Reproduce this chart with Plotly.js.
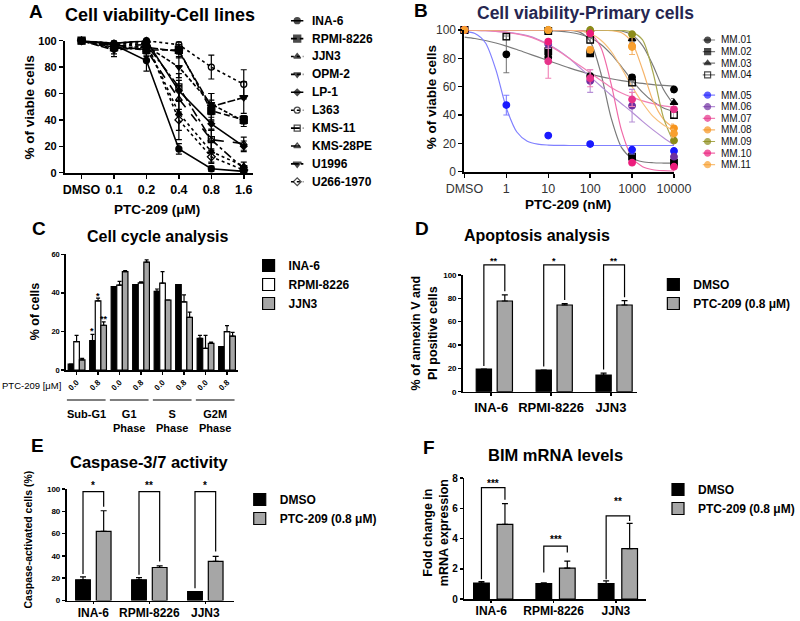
<!DOCTYPE html>
<html><head><meta charset="utf-8">
<script src="https://cdn.plot.ly/plotly-3.0.1.min.js"></script>
<style>html,body{margin:0;padding:0;background:#fff}#chart{width:800px;height:621px}</style>
</head><body><div id="chart"></div>
<script>
const W = 800, H = 621;
const FONT = 'Liberation Sans, Arial, Helvetica, sans-serif';

// ---------------- Panel A data ----------------
const doseLabelsA = ['DMSO', '0.1', '0.2', '0.4', '0.8', '1.6'];
const doseIdxA = [0, 1, 2, 3, 4, 5];
const seriesNamesA = ['INA-6', 'RPMI-8226', 'JJN3', 'OPM-2', 'LP-1', 'L363', 'KMS-11', 'KMS-28PE', 'U1996', 'U266-1970'];
const ina6A = [100, 97, 85, 18, 3, 1];
const ina6ErrA = [0, 3, 8, 4, 2, 1];
const rpmiA = [100, 95, 93, 93, 47, 40];
const rpmiErrA = [0, 3, 4, 3, 8, 3];
const jjn3A = [100, 96, 98, 45, 16, 5];
const jjn3ErrA = [0, 3, 3, 20, 8, 3];
const opm2A = [100, 94, 96, 80, 52, 39];
const opm2ErrA = [0, 4, 3, 8, 8, 4];
const lp1A = [100, 98, 100, 62, 37, 20];
const lp1ErrA = [0, 2, 1, 8, 5, 4];
const l363A = [100, 98, 100, 97, 80, 67];
const l363ErrA = [0, 2, 1, 2, 9, 11];
const kms11A = [100, 96, 97, 65, 25, 3];
const kms11ErrA = [0, 3, 3, 10, 8, 2];
const kms28A = [100, 97, 93, 56, 25, 22];
const kms28ErrA = [0, 2, 5, 10, 7, 5];
const u1996A = [100, 93, 95, 92, 50, 57];
const u1996ErrA = [0, 5, 4, 5, 10, 12];
const u266A = [100, 97, 99, 40, 12, 2];
const u266ErrA = [0, 2, 2, 8, 5, 2];

// ---------------- Panel B data ----------------
const patientsB = ['MM.01', 'MM.02', 'MM.03', 'MM.04', 'MM.05', 'MM.06', 'MM.07', 'MM.08', 'MM.09', 'MM.10', 'MM.11'];
const concB = [0.1, 1, 10, 100, 1000, 10000];
const concLabelsB = ['DMSO', '1', '10', '100', '1000', '10000'];
const ptMM01 = [100, 82.8, 80.7, 67.5, 66.6, 58];
const errMM01 = [0, 13, 0, 2, 2, 2];
const ptMM02 = [100, null, 85, 83.5, 10.6, 6.4];
const errMM02 = [0, 0, 0, 0, 0, 0];
const ptMM03 = [100, null, 100, 100, 93.6, 48.7];
const errMM03 = [0, 0, 0, 0, 2, 3];
const ptMM04 = [100, 95.3, 99.3, 93, 62.8, 40];
const errMM04 = [0, 2, 1, 2, 2, 2];
const ptMM05 = [100, 47, 25.5, 19.5, 15.5, 14.6];
const errMM05 = [0, 7, 0, 0, 3, 0];
const ptMM06 = [100, null, 90, 64, 46.6, 10.6];
const errMM06 = [0, 0, 3, 8, 11.5, 0];
const ptMM07 = [100, null, 78, 66, 51, 44];
const errMM07 = [0, 0, 12, 6, 5, 2];
const ptMM08 = [100, null, 100, 98, 88.7, 30.6];
const errMM08 = [0, 0, 0, 2, 6, 3];
const ptMM09 = [100, null, 100, 100, 97, 22];
const errMM09 = [0, 0, 0, 0, 0, 0];
const ptMM10 = [100, null, 91.8, 97.6, 6.4, 3.5];
const errMM10 = [0, 0, 0, 0, 0, 0];
const ptMM11 = [100, null, 100, 86, 88, 27];
const errMM11 = [0, 0, 0, 2, 0, 3];
// fitted curves at quarter-decade steps
const fitConcB = [0.1, 0.178, 0.316, 0.562, 1, 1.78, 3.16, 5.62, 10, 17.8, 31.6, 56.2, 100, 178, 316, 562, 1000, 1780, 3160, 5620, 10000];
const fitMM01 = [95, 94, 92.6, 90.8, 88.6, 86.2, 83.6, 81, 78.4, 75.8, 73.3, 71, 68.9, 67.1, 65.6, 64.3, 63.2, 62.3, 61.5, 60.9, 60.4];
const fitMM02 = [100, 100, 100, 100, 100, 100, 100, 100, 100, 99.9, 99.8, 98.5, 92, 70, 38, 17, 9.5, 7, 6.3, 6.1, 6];
const fitMM03 = [100, 100, 100, 100, 100, 100, 100, 100, 100, 100, 100, 100, 100, 99.9, 99.8, 99.3, 96.5, 89, 75, 58, 47];
const fitMM04 = [100, 100, 100, 100, 100, 100, 99.9, 99.8, 99.6, 99.2, 98.4, 97, 94.5, 90, 83, 74, 64.5, 56, 49.5, 45, 42.5];
const fitMM05 = [99, 97.5, 91, 72, 45, 28, 21.5, 19.4, 18.8, 18.6, 18.5, 18.5, 18.5, 18.5, 18.5, 18.5, 18.5, 18.5, 18.5, 18.5, 18.5];
const fitMM06 = [99.8, 99.7, 99.5, 99.1, 98.5, 97.5, 96, 93.5, 90, 85.5, 80, 73.5, 67, 60.5, 54, 48, 42, 35.5, 29.5, 24, 19];
const fitMM07 = [99.8, 99.7, 99.5, 99, 98.3, 97.3, 95.7, 93, 89.5, 85, 80, 75, 70, 64.5, 59.5, 55.5, 52.5, 50, 48, 46.5, 45.5];
const fitMM08 = [100, 100, 100, 100, 100, 100, 100, 100, 100, 100, 100, 100, 100, 99.9, 99.6, 98, 91, 72, 50, 37, 31];
const fitMM09 = [100, 100, 100, 100, 100, 100, 100, 100, 100, 100, 100, 100, 100, 100, 100, 99.8, 98.5, 93, 70, 38, 20];
const fitMM10 = [100, 100, 100, 100, 100, 100, 100, 100, 100, 100, 100, 99.6, 97.5, 88, 62, 29, 10, 3.5, 1.4, 0.7, 0.4];
const fitMM11 = [100, 100, 100, 100, 100, 100, 100, 100, 100, 100, 100, 99.3, 97.5, 93, 85, 73, 60, 48.5, 39, 33, 29];

// ---------------- Panel C data ----------------
const doseLabelsC = ['0.0', '0.8', '0.0', '0.8', '0.0', '0.8', '0.0', '0.8'];
const phaseLabelsC = ['Sub-G1', 'G1<br>Phase', 'S<br>Phase', 'G2M<br>Phase'];
const cellLinesC = ['INA-6', 'RPMI-8226', 'JJN3'];
const ina6C = [3.1, 15.2, 43.3, 44.3, 40.8, 44.3, 16.4, 12.1];
const ina6ErrC = [0, 3.3, 0, 0, 1.2, 0, 1.6, 0];
const rpmiC = [14.7, 35.8, 44, 45.2, 45, 35.3, 11.2, 19.9];
const rpmiErrC = [3.3, 1.5, 2, 0.5, 6, 3.7, 6.8, 3.1];
const jjn3C = [5.2, 23.2, 51, 55.9, 36.3, 27.3, 13.8, 17.6];
const jjn3ErrC = [0.8, 1.8, 0.5, 1.2, 0, 2.7, 0.7, 1.9];
const starCatC = [1, 1, 1];
const starSeriesC = [0, 1, 2];
const starValC = [21.2, 39.4, 27.6];
const starTextC = ['*', '*', '**'];

// ---------------- Panels D, E, F data ----------------
const cellLines = ['INA-6', 'RPMI-8226', 'JJN3'];
const groupNames = ['DMSO', 'PTC-209 (0.8 \u03bcM)'];
const dmsoD = [19.4, 18.6, 14.3];
const dmsoErrD = [0, 0, 1.7];
const ptcD = [77.7, 74.3, 74.3];
const ptcErrD = [5.3, 1.2, 3.7];
const brTopD = [108.6, 108.6, 108.6];
const brLeftD = [22, 21.5, 19];
const brRightD = [86, 78.5, 81];
const brStarD = [114, 114, 114];
const brTextD = ['**', '*', '**'];

const dmsoE = [18.6, 18.6, 8];
const dmsoErrE = [2.5, 2, 0];
const ptcE = [62, 29.6, 35];
const ptcErrE = [18.5, 1.5, 4.6];
const brTopE = [97.6, 97.6, 97.6];
const brLeftE = [23.7, 23, 11];
const brRightE = [84, 35, 44];
const brStarE = [105, 105, 105];
const brTextE = ['*', '**', '*'];

const dmsoF = [1.05, 1.02, 1.02];
const dmsoErrF = [0.1, 0.05, 0.18];
const ptcF = [4.93, 2.04, 3.33];
const ptcErrF = [1.37, 0.46, 1.67];
const brTopF = [7.36, 3.5, 5.5];
const brLeftF = [1.31, 1.75, 1.3];
const brRightF = [6.56, 3.07, 5.15];
const brStarF = [7.8, 4.05, 6.6];
const brTextF = ['***', '***', '**'];

// ---------------- geometry (px) ----------------
const G = {
  A: {x0: 66, x1: 258, y0: 172.7, y1: 40.7, xr: [-0.515, 5.3], yr: [0, 100]},
  B: {x0: 472.7, x1: 686, y0: 171.7, y1: 30, xr: [-1, 4], yr: [0, 100]},
  C: {x0: 67, x1: 242, y0: 370, y1: 254.3, xr: [-0.5, 7.5], yr: [0, 60]},
  D: {x0: 471, x1: 648, y0: 391.7, y1: 275, xr: [-0.475, 2.43], yr: [0, 100]},
  E: {x0: 67.7, x1: 238, y0: 600.5, y1: 489, xr: [-0.479, 2.509], yr: [0, 100]},
  F: {x0: 472.7, x1: 658, y0: 599, y1: 478, xr: [-0.43, 2.49], yr: [0, 8]}
};
const PX = p => p / W;
const PY = p => 1 - p / H;
const dataX = (g, v) => (g.x0 + (v - g.xr[0]) / (g.xr[1] - g.xr[0]) * (g.x1 - g.x0)) / W;
const dataY = (g, v) => 1 - (g.y0 + (v - g.yr[0]) / (g.yr[1] - g.yr[0]) * (g.y1 - g.y0)) / H;

function axis(g, isX, anchor, extra) {
  const o = {
    domain: isX ? [g.x0 / W, g.x1 / W] : [1 - g.y0 / H, 1 - g.y1 / H],
    range: isX ? g.xr : g.yr,
    anchor: anchor, showgrid: false, zeroline: false, showline: true,
    linecolor: '#000', linewidth: 2, ticks: 'outside', ticklen: 4, tickwidth: 1.5,
    tickcolor: '#000', fixedrange: true, automargin: false
  };
  return Object.assign(o, extra || {});
}

const traces = [];
const annotations = [];
const shapes = [];
function ann(text, x, y, size, o) {
  annotations.push(Object.assign({text: text, x: x, y: y, xref: 'paper', yref: 'paper', showarrow: false,
    xanchor: 'center', yanchor: 'middle', borderpad: 0,
    font: {family: FONT, size: size, color: '#000', weight: 'bold'}}, o || {}));
}

// ---------------- Panel A traces ----------------
const valuesA = [ina6A, rpmiA, jjn3A, opm2A, lp1A, l363A, kms11A, kms28A, u1996A, u266A];
const errsA = [ina6ErrA, rpmiErrA, jjn3ErrA, opm2ErrA, lp1ErrA, l363ErrA, kms11ErrA, kms28ErrA, u1996ErrA, u266ErrA];
const dashA = ['solid', '6px,3px', 'dot', '4px,2px', 'solid', 'dot', 'dashdot', 'dash', '8px,2px', 'dot'];
const symA = ['circle', 'square', 'triangle-up', 'triangle-down', 'diamond', 'circle-open', 'square-open', 'triangle-up-open', 'triangle-down', 'diamond-open'];
const sizeA = [6, 7, 6, 6, 5, 6, 6, 6, 7, 6];
seriesNamesA.forEach((nm, i) => {
  traces.push({type: 'scatter', mode: 'lines+markers', name: nm, x: doseIdxA, y: valuesA[i], xaxis: 'x', yaxis: 'y',
    line: {color: '#000', width: 1.6, dash: dashA[i]}, marker: {symbol: symA[i], size: sizeA[i], color: '#000', line: {color: '#000', width: 1.3}},
    error_y: {type: 'data', array: errsA[i], visible: true, color: '#000', thickness: 1.2, width: 3},
    cliponaxis: false, showlegend: false});
  traces.push({type: 'scatter', mode: 'lines+markers', x: [0, 0.5, 1], y: [i, i, i], xaxis: 'x7', yaxis: 'y7',
    line: {color: '#000', width: 1.6, dash: dashA[i]}, marker: {symbol: symA[i], size: [0, sizeA[i], 0], color: '#000', line: {color: '#000', width: 1.3}},
    cliponaxis: false, showlegend: false, hoverinfo: 'skip'});
  ann(nm, PX(317), 1 - (20.7 + 17.9 * i) / H, 12, {xanchor: 'left'});
});

// ---------------- Panel B traces ----------------
const ptsB = [ptMM01, ptMM02, ptMM03, ptMM04, ptMM05, ptMM06, ptMM07, ptMM08, ptMM09, ptMM10, ptMM11];
const errB = [errMM01, errMM02, errMM03, errMM04, errMM05, errMM06, errMM07, errMM08, errMM09, errMM10, errMM11];
const fitsB = [fitMM01, fitMM02, fitMM03, fitMM04, fitMM05, fitMM06, fitMM07, fitMM08, fitMM09, fitMM10, fitMM11];
const markColB = ['#000', '#000', '#000', '#000', '#1a1aff', '#7030a0', '#e6338a', '#f7941d', '#8c8c1a', '#ec1c7c', '#f8a030'];
const lineColB = ['#7a7a7a', '#7a7a7a', '#7a7a7a', '#7a7a7a', '#8080ff', '#b68fd6', '#f07fb5', '#f5b46a', '#a9a951', '#f06aa8', '#f8c07a'];
const symB = ['circle', 'square', 'triangle-up', 'square-open', 'circle', 'circle', 'circle', 'circle', 'circle', 'circle', 'circle'];
const rowStepB = 11.6;
patientsB.forEach((nm, i) => {
  traces.push({type: 'scatter', mode: 'lines', x: fitConcB, y: fitsB[i], xaxis: 'x2', yaxis: 'y2',
    line: {color: lineColB[i], width: 1.2, shape: 'spline', smoothing: 0.8}, showlegend: false, hoverinfo: 'skip'});
});
patientsB.forEach((nm, i) => {
  traces.push({type: 'scatter', mode: 'markers', name: nm, x: concB, y: ptsB[i], xaxis: 'x2', yaxis: 'y2',
    marker: {symbol: symB[i], size: 6.5, color: markColB[i], line: {color: markColB[i], width: 1.3}},
    error_y: {type: 'data', array: errB[i], visible: true, color: lineColB[i], thickness: 1.1, width: 3},
    cliponaxis: false, showlegend: false});
  const row = i + (i >= 4 ? 0.75 : 0);
  traces.push({type: 'scatter', mode: 'lines+markers', x: [0, 0.4, 1], y: [row, row, row], xaxis: 'x8', yaxis: 'y8',
    line: {color: lineColB[i], width: 1.2}, marker: {symbol: symB[i], size: [0, 6, 0], color: markColB[i], line: {color: markColB[i], width: 1.2}},
    cliponaxis: false, showlegend: false, hoverinfo: 'skip'});
  ann(nm, PX(733), 1 - (40 + rowStepB * row) / H, 10, {xanchor: 'left', font: {family: FONT, size: 10, color: '#111', weight: 'normal'}});
});

// ---------------- Panel C traces ----------------
const catIdxC = doseLabelsC.map((d, i) => i);
const valsC = [ina6C, rpmiC, jjn3C];
const errsC = [ina6ErrC, rpmiErrC, jjn3ErrC];
const fillC = ['#000', '#fff', '#a6a6a6'];
const offC = [-0.39, -0.13, 0.13], wC = 0.26;
cellLinesC.forEach((nm, k) => {
  traces.push({type: 'bar', name: nm, x: catIdxC, y: valsC[k], xaxis: 'x3', yaxis: 'y3', width: wC, offset: offC[k],
    marker: {color: fillC[k], line: {color: '#000', width: 1.2}},
    error_y: {type: 'data', symmetric: false, array: errsC[k], arrayminus: errsC[k].map(() => 0), color: '#000', thickness: 1.2, width: 2},
    legend: 'legend', showlegend: true});
});
starCatC.forEach((c, j) => {
  const xv = c + offC[starSeriesC[j]] + wC / 2;
  ann(starTextC[j], dataX(G.C, xv), dataY(G.C, starValC[j]), 9, {yshift: -2});
});
phaseLabelsC.forEach((lbl, k) => {
  const xa = dataX(G.C, 2 * k - 0.45), xb = dataX(G.C, 2 * k + 1.35);
  shapes.push({type: 'line', xref: 'paper', yref: 'paper', x0: xa, x1: xb, y0: PY(400), y1: PY(400), line: {color: '#000', width: 1.2}});
  ann(lbl, dataX(G.C, 2 * k + 0.45), PY(407), 11, {yanchor: 'top'});
});
ann('PTC-209 [\u03bcM]', PX(63), PY(385), 9.5, {xanchor: 'right', font: {family: FONT, size: 9.5, color: '#000', weight: 'normal'}});

// ---------------- Panels D, E, F traces ----------------
const catIdx = cellLines.map((c, i) => i);
function barPanel(g, xa, ya, legendName, dm, dmErr, pt, ptErr, offs, w, br, starSize) {
  const vals = [dm, pt], errs = [dmErr, ptErr], fills = ['#000', '#a6a6a6'];
  groupNames.forEach((nm, k) => {
    traces.push({type: 'bar', name: nm, x: catIdx, y: vals[k], xaxis: xa, yaxis: ya, width: w, offset: offs[k],
      marker: {color: fills[k], line: {color: '#000', width: 1.2}},
      error_y: {type: 'data', symmetric: false, array: errs[k], arrayminus: errs[k].map(() => 0), color: '#000', thickness: 1.2, width: 3},
      legend: legendName, showlegend: true});
  });
  catIdx.forEach(i => {
    const xl = dataX(g, i + offs[0] + w / 2), xr = dataX(g, i + offs[1] + w / 2);
    const yt = dataY(g, br.top[i]);
    shapes.push({type: 'path', xref: 'paper', yref: 'paper',
      path: `M ${xl},${dataY(g, br.left[i])} L ${xl},${yt} L ${xr},${yt} L ${xr},${dataY(g, br.right[i])}`,
      line: {color: '#000', width: 1.2}});
    ann(br.text[i], (xl + xr) / 2, dataY(g, br.star[i]), starSize, {yshift: -2});
  });
}
barPanel(G.D, 'x4', 'y4', 'legend2', dmsoD, dmsoErrD, ptcD, ptcErrD, [-0.25, 0.10], 0.255,
  {top: brTopD, left: brLeftD, right: brRightD, star: brStarD, text: brTextD}, 9);
barPanel(G.E, 'x5', 'y5', 'legend3', dmsoE, dmsoErrE, ptcE, ptcErrE, [-0.316, 0.053], 0.263,
  {top: brTopE, left: brLeftE, right: brRightE, star: brStarE, text: brTextE}, 10);
barPanel(G.F, 'x6', 'y6', 'legend4', dmsoF, dmsoErrF, ptcF, ptcErrF, [-0.283, 0.094], 0.252,
  {top: brTopF, left: brLeftF, right: brRightF, star: brStarF, text: brTextF}, 10);

// ---------------- titles / labels ----------------
[['A', 37, 12], ['B', 428, 11], ['C', 40, 228], ['D', 430, 228], ['E', 38, 445], ['F', 437, 447]].forEach(t => ann(t[0], PX(t[1]), PY(t[2]), 19));
ann('Cell viability-Cell lines', PX(163), PY(15), 18);
ann('Cell viability-Primary cells', PX(596), PY(13), 17.5, {font: {family: FONT, size: 17.5, color: '#262650', weight: 'bold'}});
ann('Cell cycle analysis', PX(161), PY(237), 16);
ann('Apoptosis analysis', PX(547), PY(235), 16);
ann('Caspase-3/7 activity', PX(152), PY(462), 16.5);
ann('BIM mRNA levels', PX(565), PY(455), 16.5);
ann('% of viable cells', PX(31), PY(107), 13.5, {textangle: -90});
ann('PTC-209 (\u03bcM)', PX(160), PY(210), 13.5);
ann('% of viable cells', PX(439), PY(97), 13.5, {textangle: -90});
ann('PTC-209 (nM)', PX(578), PY(204), 13.5);
ann('% of cells', PX(36), PY(311), 12.5, {textangle: -90});
ann('% of annexin V and<br>PI positive cells', PX(432), PY(333), 12.5, {textangle: -90});
ann('Caspase-activated cells (%)', PX(28), PY(540), 10.5, {textangle: -90});
ann('Fold change in<br>mRNA expression', PX(444), PY(533), 12.5, {textangle: -90});

const bold = s => ({family: FONT, size: s, color: '#000', weight: 'bold'});
const layout = {
  width: W, height: H, margin: {l: 0, r: 0, t: 0, b: 0}, paper_bgcolor: '#fff', plot_bgcolor: 'rgba(0,0,0,0)',
  barmode: 'overlay', showlegend: true, font: {family: FONT, color: '#000'},
  xaxis: axis(G.A, true, 'y', {tickvals: doseIdxA, ticktext: doseLabelsA, tickfont: bold(12.5)}),
  yaxis: axis(G.A, false, 'x', {tickvals: [0, 20, 40, 60, 80, 100], tickfont: bold(11)}),
  xaxis2: axis(G.B, true, 'y2', {type: 'log', tickvals: concB, ticktext: concLabelsB, tickfont: {family: FONT, size: 12.5, color: '#333'}}),
  yaxis2: axis(G.B, false, 'x2', {tickvals: [0, 20, 40, 60, 80, 100], tickfont: {family: FONT, size: 12, color: '#333'}}),
  xaxis3: axis(G.C, true, 'y3', {tickvals: catIdxC, ticktext: doseLabelsC, tickangle: -45, tickfont: bold(8), ticklen: 3, linewidth: 1.6}),
  yaxis3: axis(G.C, false, 'x3', {tickvals: [0, 20, 40, 60], tickfont: bold(7.5), ticklen: 3, linewidth: 1.6}),
  xaxis4: axis(G.D, true, 'y4', {tickvals: catIdx, ticktext: cellLines, tickfont: bold(13), ticklen: 3, linewidth: 1.6}),
  yaxis4: axis(G.D, false, 'x4', {tickvals: [0, 20, 40, 60, 80, 100], tickfont: bold(8), ticklen: 3, linewidth: 1.6}),
  xaxis5: axis(G.E, true, 'y5', {tickvals: catIdx, ticktext: cellLines, tickfont: bold(12), ticklen: 2, linewidth: 1.6, ticklabelstandoff: -2}),
  yaxis5: axis(G.E, false, 'x5', {tickvals: [0, 20, 40, 60, 80, 100], tickfont: bold(8), ticklen: 3, linewidth: 1.6}),
  xaxis6: axis(G.F, true, 'y6', {tickvals: catIdx, ticktext: cellLines, tickfont: bold(12), ticklen: 2, linewidth: 1.6, ticklabelstandoff: -2}),
  yaxis6: axis(G.F, false, 'x6', {tickvals: [0, 2, 4, 6, 8], tickfont: bold(10), ticklen: 3, linewidth: 1.6}),
  xaxis7: {domain: [PX(296), PX(309)], range: [0, 1], visible: false, anchor: 'y7', fixedrange: true},
  yaxis7: {domain: [PY(190.75), PY(11.75)], range: [9.5, -0.5], visible: false, anchor: 'x7', fixedrange: true},
  xaxis8: {domain: [PX(715), PX(728)], range: [0, 1], visible: false, anchor: 'y8', fixedrange: true},
  yaxis8: {domain: [PY(40 + 11.25 * rowStepB), PY(40 - 0.5 * rowStepB)], range: [11.25, -0.5], visible: false, anchor: 'x8', fixedrange: true},
  legend: {x: PX(253), y: PY(251), xanchor: 'left', yanchor: 'top', font: bold(12), bgcolor: 'rgba(0,0,0,0)', tracegroupgap: 0},
  legend2: {x: PX(665), y: PY(270), xanchor: 'left', yanchor: 'top', font: bold(12), bgcolor: 'rgba(0,0,0,0)', tracegroupgap: 0},
  legend3: {x: PX(244), y: PY(485), xanchor: 'left', yanchor: 'top', font: bold(12), bgcolor: 'rgba(0,0,0,0)', tracegroupgap: 0},
  legend4: {x: PX(670), y: PY(475), xanchor: 'left', yanchor: 'top', font: bold(12), bgcolor: 'rgba(0,0,0,0)', tracegroupgap: 0},
  annotations: annotations, shapes: shapes
};
Plotly.newPlot('chart', traces, layout, {staticPlot: true, displayModeBar: false});
</script></body></html>
